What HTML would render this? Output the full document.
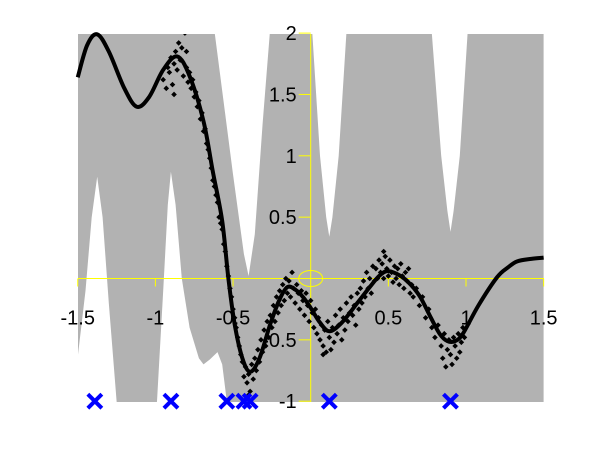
<!DOCTYPE html>
<html><head><meta charset="utf-8"><style>
html,body{margin:0;padding:0;background:#fff;}
svg{display:block;}
text{font-family:"Liberation Sans",Arial,sans-serif;font-size:20px;fill:#000;}
</style></head><body>
<svg id="chart" width="600" height="450">
<defs><clipPath id="clip"><rect x="78" y="34" width="466" height="368"/></clipPath></defs>
<g id="band" clip-path="url(#clip)"></g>
<g id="axes"></g>
<g id="points" clip-path="url(#clip)"></g>
<g id="meanline"></g>
<g id="inducing"></g>
</svg>
<script>
// ---- data ----
const upperX = [-1.5,-0.62,-0.5,-0.43,-0.40,-0.36,-0.31,-0.26,-0.1,0.0,0.01,0.06,0.10,0.12,0.14,0.18,0.23,0.24,0.77,0.78,0.84,0.88,0.90,0.92,0.96,1.01,1.02,1.5];
const upperY = [2.5,2.02,0.85,0.2,0.02,0.36,1.26,2.05,2.5,2.5,2.0,1.0,0.5,0.34,0.5,1.0,2.0,2.5,2.5,2.0,1.0,0.55,0.38,0.55,1.0,2.0,2.5,2.5];
const lowerX = [-1.5,-1.45,-1.41,-1.375,-1.34,-1.3,-1.25,-1.22,-1.02,-0.99,-0.95,-0.92,-0.90,-0.87,-0.83,-0.78,-0.72,-0.69,-0.65,-0.60,-0.57,-0.54,-0.52,1.5];
const lowerY = [-0.64,-0.1,0.5,0.83,0.5,-0.2,-1.0,-1.3,-1.3,-1.0,-0.1,0.6,0.87,0.6,0.0,-0.4,-0.65,-0.70,-0.66,-0.60,-0.70,-1.0,-1.3,-1.3];
const meanX = [-1.5,-1.44,-1.375,-1.3,-1.2,-1.12,-1.04,-0.95,-0.86,-0.78,-0.69,-0.63,-0.57,-0.53,-0.49,-0.44,-0.39,-0.33,-0.26,-0.2,-0.15,-0.1,-0.05,0.0,0.06,0.12,0.2,0.3,0.38,0.44,0.49,0.55,0.62,0.7,0.77,0.83,0.88,0.93,0.98,1.08,1.2,1.27,1.33,1.42,1.5];
const meanY = [1.64,1.9,1.99,1.85,1.55,1.40,1.48,1.7,1.81,1.65,1.28,0.87,0.47,0.0,-0.37,-0.65,-0.76,-0.65,-0.37,-0.17,-0.07,-0.09,-0.15,-0.24,-0.36,-0.43,-0.36,-0.2,-0.07,0.02,0.06,0.04,-0.02,-0.14,-0.31,-0.45,-0.51,-0.51,-0.45,-0.22,0.01,0.09,0.14,0.16,0.17];
const ptsX = [
-0.95,-0.93,-0.92,-0.91,-0.90,-0.89,-0.88,-0.87,-0.86,-0.85,
-0.84,-0.83,-0.82,-0.81,-0.80,-0.79,-0.78,-0.77,-0.76,-0.75,
-0.74,-0.73,-0.72,-0.71,-0.70,-0.69,-0.68,-0.67,-0.66,-0.65,
-0.64,-0.63,-0.62,-0.61,-0.60,-0.59,-0.58,-0.57,-0.56,-0.55,
-0.54,-0.53,-0.52,-0.51,-0.50,-0.49,-0.48,-0.47,-0.46,-0.45,
-0.44,-0.43,-0.42,-0.41,-0.40,-0.39,-0.38,-0.37,-0.36,-0.35,
-0.34,-0.33,-0.32,-0.31,-0.30,-0.29,-0.28,-0.27,-0.26,-0.25,
-0.24,-0.23,-0.22,-0.21,-0.20,-0.19,-0.18,-0.17,-0.16,-0.15,
-0.14,-0.13,-0.12,-0.11,-0.10,-0.09,-0.08,-0.07,-0.06,-0.05,
-0.04,-0.03,-0.02,-0.01,0.0,0.01,0.02,0.03,0.04,0.05,
0.06,0.07,0.08,0.09,0.10,0.11,0.12,0.13,0.14,0.15,
0.16,0.17,0.18,0.19,0.20,0.21,0.22,0.23,0.24,0.25,
0.26,0.27,0.28,0.29,0.30,0.31,0.32,0.33,0.34,0.35,
0.36,0.37,0.38,0.39,0.40,0.41,0.42,0.43,0.44,0.45,
0.46,0.47,0.48,0.49,0.50,0.51,0.52,0.53,0.54,0.55,
0.56,0.57,0.58,0.59,0.60,0.61,0.62,0.63,0.64,0.65,
0.66,0.68,0.70,0.72,0.74,0.76,0.78,0.80,0.82,0.84,
0.85,0.86,0.87,0.88,0.89,0.90,0.91,0.92,0.93,0.94,
0.95,0.96,0.97,0.98,0.99,-0.88,-0.80,-0.40,0.08,0.47];
const ptsY = [
1.62,1.55,1.72,1.68,1.80,1.58,1.75,1.85,1.70,1.92,
1.78,1.88,1.65,2.0,1.72,1.60,1.68,1.55,1.62,1.48,
1.52,1.40,1.45,1.30,1.35,1.20,1.22,1.10,1.05,0.98,
0.90,0.80,0.75,0.68,0.62,0.50,0.45,0.40,0.28,0.22,
0.10,0.02,-0.08,-0.15,-0.25,-0.32,-0.40,-0.48,-0.55,-0.62,
-0.68,-0.80,-0.72,-0.85,-0.78,-0.92,-0.70,-0.82,-0.65,-0.75,
-0.58,-0.68,-0.50,-0.60,-0.42,-0.55,-0.35,-0.48,-0.30,-0.40,
-0.22,-0.35,-0.15,-0.28,-0.10,-0.22,-0.05,-0.18,0.0,-0.12,
-0.02,-0.15,0.05,-0.08,-0.20,-0.05,-0.12,-0.25,-0.10,-0.18,
-0.30,-0.12,-0.22,-0.35,-0.18,-0.28,-0.40,-0.25,-0.45,-0.32,
-0.50,-0.38,-0.55,-0.42,-0.60,-0.35,-0.48,-0.58,-0.40,-0.52,
-0.30,-0.45,-0.38,-0.25,-0.50,-0.32,-0.42,-0.20,-0.35,-0.28,
-0.15,-0.30,-0.22,-0.38,-0.12,-0.25,-0.08,-0.20,-0.02,-0.15,
0.05,-0.08,0.0,-0.12,0.10,-0.02,0.08,0.0,0.15,0.05,
0.12,0.0,0.18,0.08,0.02,0.15,0.05,-0.03,0.10,0.0,
0.08,-0.05,0.12,0.02,-0.08,0.05,-0.02,0.08,-0.12,-0.05,
-0.15,-0.08,-0.22,-0.15,-0.32,-0.25,-0.40,-0.48,-0.38,-0.55,
-0.65,-0.45,-0.72,-0.58,-0.50,-0.62,-0.70,-0.48,-0.55,-0.65,
-0.45,-0.60,-0.52,-0.40,-0.48,1.50,1.85,-0.95,-0.62,0.22];
const inducingX = [-1.39,-0.90,-0.54,-0.43,-0.39,0.12,0.90];
const xTicks = [-1.5,-1,-0.5,0.5,1,1.5];
const xTickLabels = ["-1.5","-1","-0.5","0.5","1","1.5"];
const yTicks = [2,1.5,1,0.5,-0.5,-1];
const yTickLabels = ["2","1.5","1","0.5","-0.5","-1"];

// ---- scales ----
const sx = v => 310.7 + v*155.3;
const sy = v => 278.5 - v*122.7;
const NS = "http://www.w3.org/2000/svg";
function mk(tag, attrs, parent){const e=document.createElementNS(NS,tag);for(const k in attrs)e.setAttribute(k,attrs[k]);parent.appendChild(e);return e;}

// band
const band=document.getElementById('band');
let d='M'+upperX.map((x,i)=>sx(x).toFixed(1)+','+sy(upperY[i]).toFixed(1)).join(' L');
for(let i=lowerX.length-1;i>=0;i--) d+=' L'+sx(lowerX[i]).toFixed(1)+','+sy(lowerY[i]).toFixed(1);
d+=' Z';
const bp=mk('path',{d:d,fill:'#b2b2b2'},band);



// axes
const ax=document.getElementById('axes');
const xl=mk('line',{x1:78,x2:544,y1:sy(0),y2:sy(0),stroke:'#ffff00','stroke-width':1},ax);


const yl=mk('line',{x1:sx(0),x2:sx(0),y1:34,y2:402,stroke:'#ffff00','stroke-width':1},ax);


xTicks.forEach((t,i)=>{
  const tk=mk('line',{x1:sx(t),x2:sx(t),y1:sy(0),y2:sy(0)+8,stroke:'#ffff00','stroke-width':1},ax);
  
  
  const tx=mk('text',{x:sx(t),y:sy(0)+46,'text-anchor':'middle'},ax);
  tx.textContent=xTickLabels[i];
  
  
});
yTicks.forEach((t,i)=>{
  const tk=mk('line',{x1:sx(0)-12,x2:sx(0),y1:sy(t),y2:sy(t),stroke:'#ffff00','stroke-width':1},ax);
  
  
  const tx=mk('text',{x:sx(0)-14,y:sy(t)+7,'text-anchor':'end'},ax);
  tx.textContent=yTickLabels[i];
  
  
});
const el=mk('ellipse',{cx:sx(0),cy:sy(0),rx:12,ry:8,fill:'none',stroke:'#ffff00','stroke-width':1},ax);



// points
const pg=document.getElementById('points');
ptsX.forEach((x,i)=>{
  const cx=sx(x),cy=sy(ptsY[i]);
  const p=mk('path',{d:`M${cx},${cy-2.8} L${cx+2.8},${cy} L${cx},${cy+2.8} L${cx-2.8},${cy} Z`,fill:'#000'},pg);
  
  
});

// mean curve (Catmull-Rom smoothing)
const mg=document.getElementById('meanline');
const P=meanX.map((x,i)=>[sx(x),sy(meanY[i])]);
let md='M'+P[0][0]+','+P[0][1];
for(let i=0;i<P.length-1;i++){
  const p0=P[Math.max(0,i-1)],p1=P[i],p2=P[i+1],p3=P[Math.min(P.length-1,i+2)];
  md+=` C${p1[0]+(p2[0]-p0[0])/6},${p1[1]+(p2[1]-p0[1])/6} ${p2[0]-(p3[0]-p1[0])/6},${p2[1]-(p3[1]-p1[1])/6} ${p2[0]},${p2[1]}`;
}
const ml=mk('path',{d:md,fill:'none',stroke:'#000','stroke-width':4,'stroke-linejoin':'round'},mg);



// inducing inputs
const ig=document.getElementById('inducing');
inducingX.forEach(x=>{
  const cx=sx(x),cy=sy(-1),r=7;
  const p=mk('path',{d:`M${cx-r},${cy-r} L${cx+r},${cy+r} M${cx-r},${cy+r} L${cx+r},${cy-r}`,stroke:'#0000ff','stroke-width':4,fill:'none'},ig);
  
  
});
</script>
</body></html>
